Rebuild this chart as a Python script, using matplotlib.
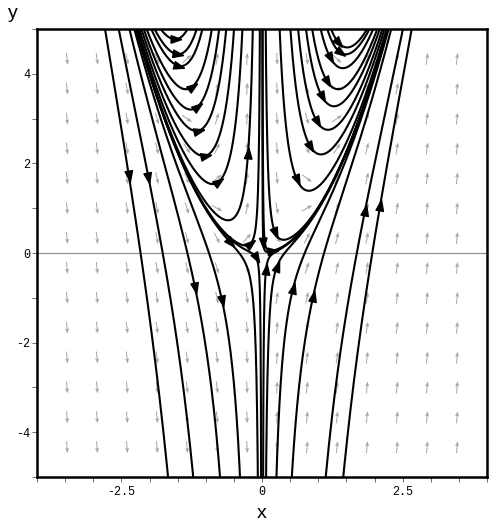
import numpy as np
import matplotlib
matplotlib.use('Agg')
import matplotlib.pyplot as plt
from matplotlib.markers import MarkerStyle
from matplotlib.transforms import Affine2D
from matplotlib.ticker import FuncFormatter

# phase plane:  x' = x^2 ,  y' = x*(4x^2 - 2y)   (orbits are y = x^2 + C/x^2)
# points on each drawn orbit (where its arrow head sits)
x_start = [-2.37, -2.02, -1.19, -0.71, -0.569, -0.107,
           -1.545, -1.517, -1.49, -1.25, -1.16, -1.13, -1.01, -0.78, -0.213, -0.249,
           2.10, 1.83, 0.907, 0.55, 0.26, 0.07,
           1.357, 1.387, 1.21, 1.15, 1.06, 0.97, 0.853, 0.616, 0.231, 0.024, 0.172]
y_start = [1.75, 1.70, -0.77, -1.06, 0.24, -0.096,
           4.77, 4.44, 4.18, 3.70, 3.25, 2.73, 2.17, 1.58, 0.20, 2.21,
           1.06, 0.94, -0.98, -0.80, -0.32, -0.39,
           4.70, 4.48, 4.37, 3.85, 3.51, 2.95, 2.39, 1.65, 0.46, 0.24, 0.05]

x_lim = (-4, 4)
y_lim = (-5, 5)
x_labels = [-2.5, 0, 2.5]
y_labels = [-4, -2, 0, 2, 4]
n_grid = 16


def field(x, y):
    return x**2, x * (4 * x**2 - 2 * y)


plt.rcParams['axes.unicode_minus'] = False
fig = plt.figure(figsize=(4.97, 5.27), dpi=100)
ax = fig.add_axes([37 / 497, 1 - 477 / 527, 450 / 497, 448 / 527])
ax.set_xlim(*x_lim)
ax.set_ylim(*y_lim)

# pixels per data unit, so arrows point the way they look on screen
bbox = ax.get_position()
sx = bbox.width * 497 / (x_lim[1] - x_lim[0])
sy = bbox.height * 527 / (y_lim[1] - y_lim[0])

# direction field
gx = np.linspace(x_lim[0], x_lim[1], n_grid)[1:-1]
gy = np.linspace(y_lim[0], y_lim[1], n_grid)[1:-1]
X, Y = np.meshgrid(gx, gy)
U, V = field(X, Y)
U, V = U * sx, V * sy
n = np.hypot(U, V)
ax.quiver(X, Y, U / n, V / n, angles='uv', pivot='middle',
          scale_units='inches', scale=1 / 0.12, units='dots', width=1.0,
          headwidth=4, headlength=5, headaxislength=4.5, color='#a8a8a8', zorder=1)

ax.axhline(0, color='#909090', lw=0.9, zorder=0.5)

# orbits
head = [(1.0, 0.0), (-0.7, 0.6), (-0.7, -0.6), (1.0, 0.0)]
for x0, y0 in zip(x_start, y_start):
    C = (y0 - x0**2) * x0**2
    xs = np.sign(x0) * np.geomspace(1e-4, 4.3, 4000)
    ys = xs**2 + C / xs**2
    ys[np.abs(ys) > 15] = np.nan
    ax.plot(xs, ys, color='black', lw=1.5, zorder=3)
    u, v = field(x0, y0)
    ang = np.degrees(np.arctan2(v * sy, u * sx))
    ms = MarkerStyle(head, transform=Affine2D().rotate_deg(ang))
    ax.plot([x0], [y0], marker=ms, ms=9, color='black', mec='black', zorder=4)

# axes dressing
for s in ax.spines.values():
    s.set_linewidth(1.8)
ax.set_xticks(x_labels)
ax.set_xticks(np.arange(-4, 4.01, 0.5), minor=True)
ax.set_yticks(y_labels)
ax.set_yticks(np.arange(-5, 5.01, 1), minor=True)
ax.xaxis.set_major_formatter(FuncFormatter(lambda v, _: f'{v:g}'))
ax.yaxis.set_major_formatter(FuncFormatter(lambda v, _: f'{v:g}'))
ax.tick_params(which='both', direction='out', length=3.5, width=0.6, color='#555555')
ax.tick_params(axis='x', pad=3)
ax.tick_params(axis='y', pad=1.5)
for lab in ax.get_xticklabels() + ax.get_yticklabels():
    lab.set_fontfamily('Liberation Mono')
    lab.set_fontsize(8.5)
fig.text(262 / 497, 1 - 514 / 527, 'x', ha='center', va='center', fontsize=14,
         family='Liberation Sans')
fig.text(13 / 497, 1 - 14 / 527, 'y', ha='center', va='center', fontsize=14,
         family='Liberation Sans')

fig.savefig('out.png', dpi=100)
